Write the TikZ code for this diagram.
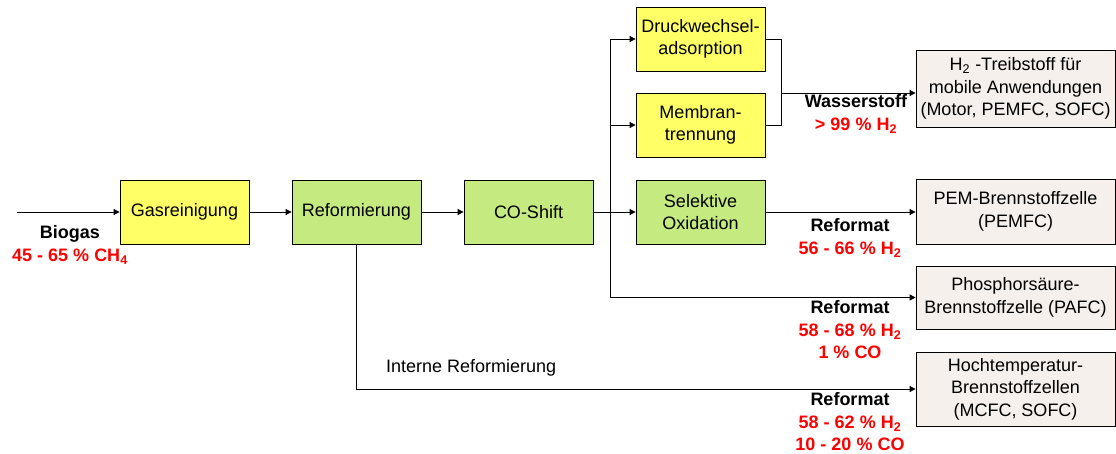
\documentclass[tikz,border=0pt]{standalone}
\usepackage{fontspec}
\setmainfont{Liberation Sans}
\usetikzlibrary{arrows.meta}
\definecolor{gelb}{RGB}{255,255,102}
\definecolor{gruen}{RGB}{196,234,128}
\definecolor{beige}{RGB}{245,240,235}
\definecolor{rot}{RGB}{255,0,0}
\begin{document}
\begin{tikzpicture}[x=1pt, y=-1pt,
    every node/.style={font=\fontsize{18}{22.5}\selectfont},
    box/.style={draw, line width=0.8pt, minimum width=129pt, minimum height=64pt, inner sep=0pt, align=center},
    ziel/.style={draw, line width=0.8pt, fill=beige, minimum width=199pt, inner sep=0pt, align=center},
    lab/.style={align=center, inner sep=0pt, font=\fontsize{18}{22.5}\selectfont\bfseries},
    arr/.style={-{Triangle[length=6pt,width=6pt]}, line width=0.8pt},
    ln/.style={line width=0.8pt}]
    \useasboundingbox (0,0) rectangle (1116,454);
    \node[box, fill=gelb] (gas) at (184.5,212) {Gasreinigung};
    \node[box, fill=gruen] (ref) at (356.5,212) {Reformierung};
    \node[box, fill=gruen] (co) at (528.5,212) {CO-Shift};
    \node[box, fill=gelb] (dwa) at (700.5,39) {Druckwechsel-\\adsorption};
    \node[box, fill=gelb] (mem) at (700.5,125) {Membran-\\trennung};
    \node[box, fill=gruen] (sel) at (700.5,212) {Selektive\\Oxidation};
    \node[ziel, minimum height=77pt] (h2) at (1015.5,88.5) {H\textsubscript{2} -Treibstoff für\\mobile Anwendungen\\(Motor, PEMFC, SOFC)};
    \node[ziel, minimum height=65pt] (pem) at (1015.5,211.5) {PEM-Brennstoffzelle\\(PEMFC)};
    \node[ziel, minimum height=63pt] (pafc) at (1015.5,297.5) {Phosphorsäure-\\Brennstoffzelle (PAFC)};
    \node[ziel, minimum height=74pt] (hot) at (1015.5,389) {Hochtemperatur-\\Brennstoffzellen\\(MCFC, SOFC)};
    \coordinate (ein) at (17,212);
    \coordinate (ab) at (610,212);
    \coordinate (ws) at (781,93);
    \draw[arr] (ein) -- (gas);
    \draw[arr] (gas) -- (ref);
    \draw[arr] (ref) -- (co);
    \draw[arr] (co) -- (sel);
    \draw[arr] (ab) |- (dwa.west);
    \draw[arr] (ab) |- (mem.west);
    \draw[arr] (ab) |- (pafc.west);
    \draw[ln] (dwa.east) -| (ws) |- (mem.east);
    \draw[arr] (ws) -- (ws -| h2.west);
    \draw[arr] (sel) -- (sel -| pem.west);
    \draw[arr] (ref.south) |- (hot.west);
    \node[lab] (bio) at (70,245) {Biogas\\\textcolor{rot}{45 - 65 \% CH\textsubscript{4}}};
    \node[lab] (wst) at (856,114) {Wasserstoff\\\textcolor{rot}{> 99 \% H\textsubscript{2}}};
    \node[lab] (rf1) at (850,238) {Reformat\\\textcolor{rot}{56 - 66 \% H\textsubscript{2}}};
    \node[lab] (rf2) at (850,330) {Reformat\\\textcolor{rot}{58 - 68 \% H\textsubscript{2}}\\\textcolor{rot}{1 \% CO}};
    \node[lab] (rf3) at (850,422) {Reformat\\\textcolor{rot}{58 - 62 \% H\textsubscript{2}}\\\textcolor{rot}{10 - 20 \% CO}};
    \node[anchor=west, inner sep=0pt] (intern) at (386,368) {Interne Reformierung};
\end{tikzpicture}
\end{document}
